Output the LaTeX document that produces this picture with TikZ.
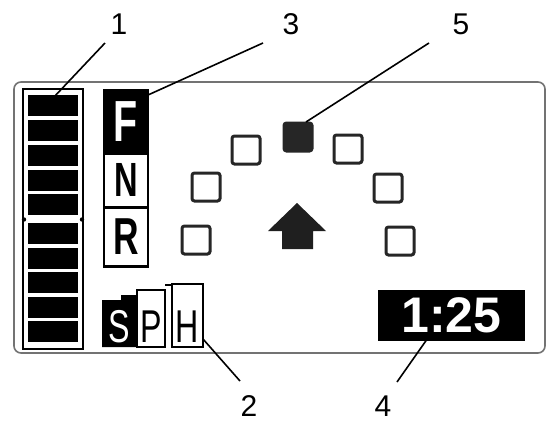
\documentclass[tikz,border=0pt]{standalone}
\usepackage{fontspec}
\setmainfont{Liberation Sans}
\usepackage{graphicx}
\begin{document}
\begin{tikzpicture}[x=1pt,y=-1pt,
  lbl/.style={font=\fontsize{30}{30}\selectfont, inner sep=0pt},
  leader/.style={line width=1.6pt, black},
  sq/.style={draw=black!85, line width=3pt, rounded corners=2.5pt, minimum width=28pt, minimum height=28pt, inner sep=0pt},
  bar/.style={fill=black},
  gear/.style={draw=black, line width=2.5pt, inner sep=0pt, minimum width=44pt, text width=44pt, align=center},
  sphbox/.style={draw=black, line width=2pt}
]
\useasboundingbox (0,0) rectangle (550,434);
% panel
\draw[line width=1.6pt, draw=black!55, rounded corners=7pt, fill=white] (14,82) rectangle (545,353);
% bar column
\draw[line width=2pt] (23,89) rectangle (83,349);
\foreach \t in {95,120,145,170,194,223,248,272,297,321}{
  \fill[bar] (28,\t) rectangle (78,\t+21);
}
\fill (24,219.5) circle (2.2pt);
\fill (82,219.5) circle (2.2pt);
% F N R column
\node[gear, fill=black, minimum height=63pt, text=white, anchor=north] (F) at (126,89)
  {\fontsize{58}{58}\selectfont\bfseries\scalebox{0.68}[1]{F}};
\node[gear, minimum height=54pt, anchor=north] (N) at (126,152)
  {\fontsize{48}{48}\selectfont\bfseries\scalebox{0.68}[1]{N}};
\node[gear, minimum height=59pt, anchor=north] (R) at (126,206)
  {\fontsize{52}{52}\selectfont\bfseries\scalebox{0.68}[1]{R}};
% SPH
\fill[black] (102,300) -- (121,300) -- (121,295) -- (137,295) -- (137,347) -- (102,347) -- cycle;
\draw[sphbox] (137,290) rectangle (165,347);
\draw[sphbox] (172,284) rectangle (203,347);
\draw[sphbox] (165,285) -- (172,285);
\node[inner sep=0pt, text=white] (S) at (119.5,327) {\fontsize{46}{46}\selectfont\scalebox{0.7}[1]{S}};
\node[inner sep=0pt] (P) at (151,327) {\fontsize{46}{46}\selectfont\scalebox{0.7}[1]{P}};
\node[inner sep=0pt] (H) at (187.5,327) {\fontsize{46}{46}\selectfont\scalebox{0.7}[1]{H}};
% time
\node[fill=black, text=white, minimum width=147pt, minimum height=51pt, inner sep=0pt] (T) at (451.5,315.5)
  {\fontsize{50}{50}\selectfont\bfseries 1:25};
% squares
\node[sq, fill=black!85] (s0) at (298,137) {};
\node[sq] (s1) at (246,150) {};
\node[sq] (s2) at (348,149) {};
\node[sq] (s3) at (206,187) {};
\node[sq] (s4) at (388,188) {};
\node[sq] (s5) at (196,240) {};
\node[sq] (s6) at (400,241) {};
% arrow
\fill[black!88] (297,203) -- (326,231) -- (313,231) -- (313,249) -- (282,249) -- (282,231) -- (268,231) -- cycle;
% labels
\node[lbl] (l1) at (119,24) {1};
\node[lbl] (l3) at (291,24) {3};
\node[lbl] (l5) at (461,24) {5};
\node[lbl] (l2) at (249,406) {2};
\node[lbl] (l4) at (383,406) {4};
\coordinate (e1s) at (105,43);
\coordinate (e1) at (54,97);
\coordinate (e3s) at (263,43);
\coordinate (e3) at (148,95);
\coordinate (e5s) at (429,43);
\coordinate (e5) at (306,122);
\coordinate (e2s) at (240,381);
\coordinate (e2) at (203,339);
\coordinate (e4s) at (397,382);
\coordinate (e4) at (430,335);
\draw[leader] (e1s) -- (e1);
\draw[leader] (e3s) -- (e3);
\draw[leader] (e5s) -- (e5);
\draw[leader] (e2s) -- (e2);
\draw[leader] (e4s) -- (e4);
\end{tikzpicture}
\end{document}
